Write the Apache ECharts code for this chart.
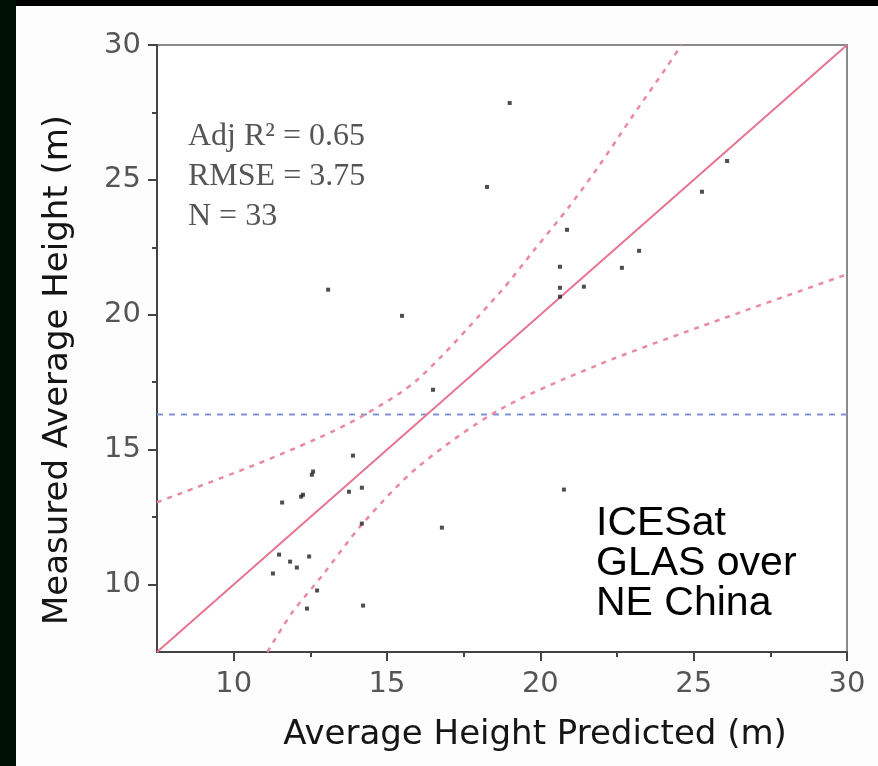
<!DOCTYPE html>
<html><head><meta charset="utf-8">
<script src="https://cdn.jsdelivr.net/npm/echarts@6/dist/echarts.min.js"></script>
<style>html,body{margin:0;padding:0;background:#000;}#c{width:878px;height:766px;}</style>
</head><body><div id="c"></div>
<script>
// ---- data ----
const predicted = [19.0, 18.26, 26.09, 25.27, 20.87, 20.64, 23.22, 22.66, 20.64, 20.64, 21.42, 13.08, 15.49,
  16.5, 13.89, 12.59, 12.55, 12.26, 12.2, 11.58, 13.76, 14.18, 14.18, 16.79, 20.77,
  11.48, 11.84, 12.06, 12.46, 11.28, 12.72, 12.39, 14.22];
const measured = [27.85, 24.74, 25.7, 24.56, 23.15, 21.78, 22.37, 21.74, 21.0, 20.67, 21.04, 20.93, 19.96,
  17.22, 14.78, 14.19, 14.07, 13.33, 13.26, 13.04, 13.44, 13.59, 12.26, 12.11, 13.52,
  11.11, 10.85, 10.63, 11.04, 10.41, 9.78, 9.11, 9.22];
const fitX = [7.5, 30];
const fitY = [7.5, 30];
const upperX = [7.5, 10.5, 12.7, 14.2, 16.0, 18.7, 19.8, 20.9, 21.9, 23.0, 24.1, 24.6];
const upperY = [13.05, 14.35, 15.4, 16.25, 17.6, 20.85, 22.4, 23.95, 25.5, 27.35, 29.15, 30.0];
const lowerX = [11.1, 11.9, 12.9, 14.2, 16.0, 18.7, 21.9, 25.2, 30.0];
const lowerY = [7.5, 8.95, 10.35, 12.25, 14.35, 16.5, 18.15, 19.55, 21.5];
const meanX = [7.5, 30];
const meanY = [16.3, 16.3];
const xMajorTicks = [10, 15, 20, 25, 30];
const xMinorTicks = [12.5, 17.5, 22.5, 27.5];
const yMajorTicks = [10, 15, 20, 25, 30];
const yMinorTicks = [12.5, 17.5, 22.5, 27.5];
const statsLines = ['Adj R\u00b2 = 0.65', 'RMSE = 3.75', 'N = 33'];
const noteLines = ['ICESat', 'GLAS over', 'NE China'];
const xTitle = 'Average Height Predicted (m)';
const yTitle = 'Measured Average Height (m)';

const zip = (a, b) => a.map((v, i) => [v, b[i]]);

const chart = echarts.init(document.getElementById('c'), null, {renderer: 'canvas'});
const axisCommon = {type: 'value', min: 7.5, max: 30, splitLine: {show: false}};
const labelStyle = {fontFamily: 'DejaVu Sans', fontSize: 29, color: '#555'};
const nameStyle = {fontFamily: 'DejaVu Sans', fontSize: 34, color: '#151515'};

chart.setOption({
  backgroundColor: '#000',
  animation: false,
  graphic: {elements: [
    {type: 'rect', z: -10, silent: true, shape: {x: 0, y: 0, width: 16, height: 766}, style: {fill: '#011004'}},
    {type: 'rect', z: -10, silent: true, shape: {x: 16, y: 6, width: 862, height: 760}, style: {fill: '#fdfdfd'}},
    {type: 'text', z: 10, left: 188, top: 117, silent: true,
      style: {text: statsLines.join('\n'), font: '32px "Liberation Serif"', lineHeight: 40, fill: '#555'}},
    {type: 'text', z: 10, left: 596, top: 503, silent: true,
      style: {text: noteLines.join('\n'), font: '41px "Liberation Sans"', lineHeight: 40, fill: '#000'}}
  ]},
  grid: {left: 157, top: 45, right: 31, bottom: 114, show: true, backgroundColor: '#fff', borderColor: '#8a8a8a', borderWidth: 2},
  xAxis: [
    Object.assign({}, axisCommon, {
      name: xTitle, nameLocation: 'middle', nameGap: 66,
      nameTextStyle: Object.assign({padding: [0, 0, 0, 66]}, nameStyle),
      axisLine: {lineStyle: {color: '#444', width: 2}},
      axisTick: {customValues: xMajorTicks, length: 9, lineStyle: {color: '#444', width: 2}},
      axisLabel: Object.assign({customValues: xMajorTicks, margin: 18}, labelStyle)
    }),
    Object.assign({}, axisCommon, {
      position: 'bottom',
      axisLine: {show: false},
      axisTick: {customValues: xMinorTicks, length: 5, lineStyle: {color: '#444', width: 2}},
      axisLabel: {show: false}
    })
  ],
  yAxis: [
    Object.assign({}, axisCommon, {
      name: yTitle, nameLocation: 'middle', nameGap: 82,
      nameTextStyle: Object.assign({padding: [0, 43, 0, 0]}, nameStyle),
      axisLine: {lineStyle: {color: '#444', width: 2}},
      axisTick: {customValues: yMajorTicks, length: 9, lineStyle: {color: '#444', width: 2}},
      axisLabel: Object.assign({customValues: yMajorTicks, margin: 16}, labelStyle)
    }),
    Object.assign({}, axisCommon, {
      position: 'left',
      axisLine: {show: false},
      axisTick: {customValues: yMinorTicks, length: 5, lineStyle: {color: '#444', width: 2}},
      axisLabel: {show: false}
    })
  ],
  series: [
    {type: 'line', data: zip(meanX, meanY), symbol: 'none', z: 3,
      lineStyle: {color: '#8093d6', width: 2, type: [6, 6]}},
    {type: 'line', data: zip(upperX, upperY), symbol: 'none', smooth: 0.3, z: 3,
      lineStyle: {color: '#e98aa0', width: 2.5, type: [5, 6]}},
    {type: 'line', data: zip(lowerX, lowerY), symbol: 'none', smooth: 0.3, z: 3,
      lineStyle: {color: '#e98aa0', width: 2.5, type: [5, 6]}},
    {type: 'line', data: zip(fitX, fitY), symbol: 'none', z: 4,
      lineStyle: {color: '#e57590', width: 2}},
    {type: 'scatter', data: zip(predicted, measured), symbol: 'rect', symbolSize: 4, z: 5,
      itemStyle: {color: '#222'}}
  ]
});
</script></body></html>
